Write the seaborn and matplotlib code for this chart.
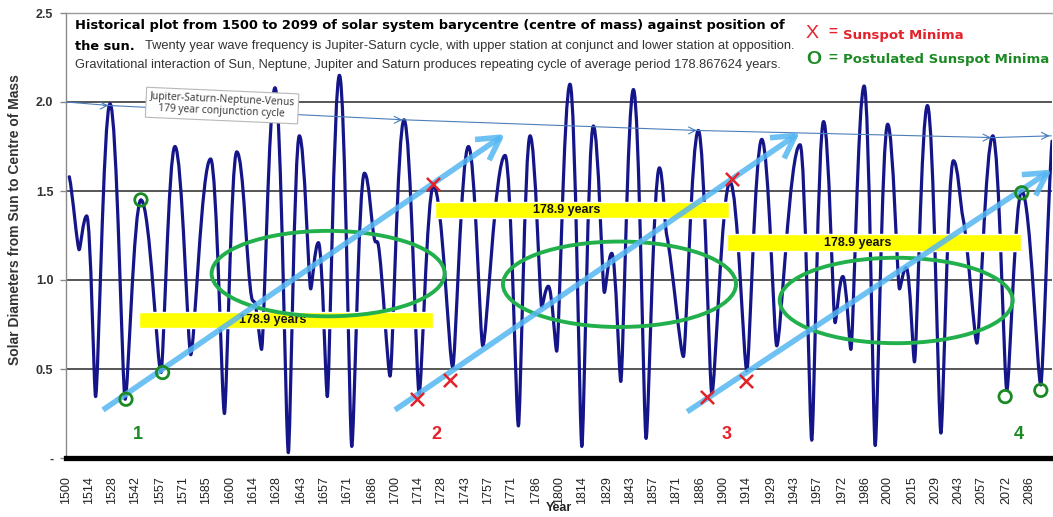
import numpy as np
import pandas as pd
import matplotlib
matplotlib.use("Agg")
import matplotlib.pyplot as plt
import seaborn as sns
from matplotlib.patches import Ellipse, PathPatch
from matplotlib.path import Path

# Distance of the Sun from the barycentre: turning points of the curve
years = [1502.0, 1508.0, 1512.6, 1518.0, 1526.8, 1536.0, 1545.6, 1557.8, 1566.3, 1575.9,
         1588.0, 1596.4, 1603.9, 1613.0, 1615.0, 1619.0, 1627.2, 1635.3, 1642.0, 1648.9,
         1653.6, 1659.0, 1666.4, 1673.9, 1681.6, 1688.0, 1690.0, 1697.2, 1705.7, 1714.9,
         1723.6, 1735.3, 1744.9, 1753.6, 1767.2, 1775.3, 1782.4, 1789.5, 1793.5, 1798.6,
         1806.7, 1813.9, 1820.9, 1827.6, 1832.1, 1837.6, 1845.3, 1853.0, 1861.1, 1865.6,
         1875.7, 1884.8, 1893.0, 1904.1, 1914.3, 1923.4, 1932.5, 1946.7, 1953.8, 1961.0,
         1968.0, 1972.7, 1977.6, 1985.7, 1992.4, 2000.0, 2007.2, 2011.3, 2016.3, 2024.2,
         2032.4, 2040.0, 2046.0, 2054.3, 2064.0, 2072.5, 2081.6, 2093.2, 2100.0]
distance = [1.58, 1.17, 1.36, 0.345, 1.99, 0.33, 1.45, 0.48, 1.75, 0.58,
            1.68, 0.25, 1.72, 0.90, 0.87, 0.61, 2.08, 0.03, 1.81, 0.95,
            1.21, 0.345, 2.15, 0.065, 1.60, 1.22, 1.20, 0.46, 1.90, 0.36,
            1.53, 0.51, 1.75, 0.63, 1.70, 0.18, 1.81, 0.85, 0.965, 0.60,
            2.10, 0.065, 1.865, 0.93, 1.15, 0.43, 2.07, 0.11, 1.63, 1.25,
            0.57, 1.84, 0.36, 1.55, 0.49, 1.79, 0.63, 1.76, 0.10, 1.89,
            0.76, 1.02, 0.61, 2.09, 0.07, 1.875, 0.95, 1.07, 0.54, 1.98,
            0.14, 1.67, 1.34, 0.645, 1.81, 0.38, 1.50, 0.41, 1.78]

tick_labels = ["1500", "1514", "1528", "1542", "1557", "1571", "1585", "1600", "1614",
               "1628", "1643", "1657", "1671", "1686", "1700", "1714", "1728", "1743",
               "1757", "1771", "1786", "1800", "1814", "1829", "1843", "1857", "1871",
               "1886", "1900", "1914", "1929", "1943", "1957", "1972", "1986", "2000",
               "2015", "2029", "2043", "2057", "2072", "2086"]
y_ticks = [0.0, 0.5, 1.0, 1.5, 2.0, 2.5]
y_tick_labels = ["-", "0.5", "1.0", "1.5", "2.0", "2.5"]

# Observed sunspot minima (red crosses)
minima_years = [1713.4, 1723.2, 1733.8, 1889.9, 1905.2, 1913.9]
minima_values = [0.33, 1.54, 0.44, 0.345, 1.565, 0.43]

# Postulated sunspot minima (green rings)
postulated_years = [1536.5, 1545.6, 1558.8, 2071.5, 2081.6, 2093.2]
postulated_values = [0.33, 1.45, 0.48, 0.345, 1.49, 0.38]

# 178.9-year repeat bands
period = 178.9
band_starts = [1544.5, 1724.6, 1902.2]
band_levels = [0.775, 1.395, 1.21]
band_text_years = [1626.0, 1804.7, 1982.0]

# Rings round the disturbed stretches of each cycle
ring_years = [1659.5, 1836.8, 2005.2]
ring_values = [1.036, 0.976, 0.885]

# Rising trend arrows through each cycle
trend_start_years = [1522.5, 1700.2, 1878.0]
trend_start_values = [0.27, 0.27, 0.26]
trend_end_years = [1767.2, 1946.7, 2100.0]
trend_end_values = [1.82, 1.83, 1.62]

# Jupiter-Saturn-Neptune-Venus conjunction peaks
conj_years = [1500.0, 1526.8, 1705.7, 1884.8, 2064.0, 2099.6]
conj_values = [2.00, 1.98, 1.90, 1.84, 1.80, 1.81]

# Cycle numbers
cycle_labels = ["1", "2", "3", "4"]
cycle_years = [1544.0, 1725.6, 1902.0, 2080.0]
cycle_value = 0.13

NAVY = "#15158a"
RED = "#e4222a"
GREEN = "#1c8a24"
RING = "#22b04c"
SKY = "#55b6f2"
THIN = "#4a7ebb"

sns.set_theme(style="white")
plt.rcParams["font.family"] = ["Liberation Sans", "DejaVu Sans"]

W, H = 1053, 517
fig = plt.figure(figsize=(W / 100, H / 100), dpi=100)
ax = fig.add_axes([66 / W, 1 - 458 / H, (1052 - 66) / W, (458 - 13) / H])
ax.set_xlim(1500, 2100)
ax.set_ylim(0, 2.5)


def smoothed_path(xs, ys):
    """Smoothed line through the turning points: flat tangent at crests and
    troughs (broad crests, narrow troughs), sloped tangent elsewhere."""
    n = len(xs)

    def kind(i):
        if 0 < i < n - 1:
            if ys[i] > ys[i - 1] and ys[i] > ys[i + 1]:
                return "crest"
            if ys[i] < ys[i - 1] and ys[i] < ys[i + 1]:
                return "trough"
        return "slope"

    def handle(i):
        return {"crest": 0.45, "trough": 0.18, "slope": 0.33}[kind(i)]

    def tangent(i):
        if kind(i) != "slope":
            return 0.0
        a, b = max(i - 1, 0), min(i + 1, n - 1)
        return 0.6 * (ys[b] - ys[a]) / (xs[b] - xs[a])

    verts = [(xs[0], ys[0])]
    codes = [Path.MOVETO]
    for i in range(n - 1):
        dx = xs[i + 1] - xs[i]
        h0, h1 = handle(i) * dx, handle(i + 1) * dx
        verts += [(xs[i] + h0, ys[i] + tangent(i) * h0),
                  (xs[i + 1] - h1, ys[i + 1] - tangent(i + 1) * h1),
                  (xs[i + 1], ys[i + 1])]
        codes += [Path.CURVE4] * 3
    return Path(verts, codes)


curve = PathPatch(smoothed_path(years, distance), fill=False, edgecolor=NAVY, lw=2.3,
                  joinstyle="round", capstyle="round", zorder=3, transform=ax.transData)
ax.add_patch(curve)

# grid and frame
for v in [0.5, 1.0, 1.5, 2.0]:
    ax.axhline(v, color="#3a3a3a", lw=1.2, zorder=1)
ax.spines["right"].set_visible(False)
ax.spines["top"].set_color("#9a9a9a")
ax.spines["top"].set_linewidth(1.0)
ax.spines["left"].set_color("#8a8a8a")
ax.spines["left"].set_linewidth(1.0)
ax.spines["bottom"].set_color("black")
ax.spines["bottom"].set_linewidth(3.8)

ax.set_xticks([int(t) for t in tick_labels])
ax.set_xticklabels(tick_labels, rotation=90, fontsize=9, color="#222222")
ax.set_yticks(y_ticks)
ax.set_yticklabels(y_tick_labels, fontsize=9, fontweight="bold", color="#333333")
ax.tick_params(axis="y", which="both", left=True, length=4, width=1, color="#8a8a8a", pad=5)
ax.tick_params(axis="x", which="both", bottom=False, pad=7)

fig.text(15 / W, 1 - 220 / H, "Solar Diameters from Sun to Centre of Mass", rotation=90,
         ha="center", va="center", fontsize=10, fontweight="bold", color="#333333")
fig.text(559 / W, 1 - 508 / H, "Year", ha="center", va="center", fontsize=9,
         fontweight="bold", color="#222222")

# conjunction cycle line joining the great peaks
conj_df = pd.DataFrame({"year": conj_years, "value": conj_values})
sns.lineplot(data=conj_df, x="year", y="value", ax=ax, color=THIN, lw=0.8,
             estimator=None, sort=False, zorder=4)
for i in range(1, len(conj_years)):
    ax.annotate("", xy=(conj_years[i] - 1.0, conj_values[i]),
                xytext=(conj_years[i] - 4.0, conj_values[i]), annotation_clip=False,
                arrowprops=dict(arrowstyle="->,head_length=0.5,head_width=0.25",
                                mutation_scale=10, color=THIN, lw=0.8,
                                shrinkA=0, shrinkB=0), zorder=4)
ax.text(1595, 1.98, "Jupiter-Saturn-Neptune-Venus\n179 year conjunction cycle",
        ha="center", va="center", fontsize=7.4, color="#333333", rotation=-2.5,
        family=["Open Sans", "DejaVu Sans"], linespacing=1.1, zorder=8,
        bbox=dict(boxstyle="square,pad=0.35", facecolor="white", edgecolor="#b8b8b8", lw=0.8))
ax.set_xlabel("")
ax.set_ylabel("")

# yellow period bands
for start, level, tx in zip(band_starts, band_levels, band_text_years):
    ax.barh(level, period, left=start, height=0.092, color="#ffff00", zorder=4)
    ax.text(tx, level, f"{period} years", ha="center", va="center", fontsize=9,
            fontweight="bold", color="#111111", zorder=5)

# rings
for cx, cy in zip(ring_years, ring_values):
    ax.add_patch(Ellipse((cx, cy), 141.8, 0.48, fill=False, edgecolor=RING,
                         lw=2.8, zorder=6))

# trend arrows
for x0, y0, x1, y1 in zip(trend_start_years, trend_start_values, trend_end_years, trend_end_values):
    ax.annotate("", xy=(x1, y1), xytext=(x0, y0), annotation_clip=False,
                arrowprops=dict(arrowstyle="->,head_length=0.8,head_width=0.45",
                                mutation_scale=20, color=SKY, lw=4.0, alpha=0.85,
                                shrinkA=0, shrinkB=0, capstyle="butt"), zorder=7)

# sunspot minima markers
sns.scatterplot(x=minima_years, y=minima_values, ax=ax, marker="x", s=90, color=RED,
                linewidth=1.8, zorder=9)
ax.scatter(postulated_years, postulated_values, marker="o", s=80, facecolors="none",
           edgecolors=GREEN, linewidths=2.0, zorder=9)

# cycle numbers
for lab, cx in zip(cycle_labels, cycle_years):
    col = GREEN if lab in ("1", "4") else RED
    ax.text(cx, cycle_value, lab, ha="center", va="center", fontsize=13,
            fontweight="bold", color=col, zorder=9)

# heading
fig.text(75 / W, 1 - 25 / H,
         "Historical plot from 1500 to 2099 of solar system barycentre (centre of mass) against position of",
         ha="left", va="center", fontsize=9.4, fontweight="bold", color="black",
         family=["DejaVu Sans"])
fig.text(75 / W, 1 - 46.5 / H, "the sun.", ha="left", va="center", fontsize=9.4,
         fontweight="bold", color="black", family=["DejaVu Sans"])
fig.text(145 / W, 1 - 46.5 / H,
         "Twenty year wave frequency is Jupiter-Saturn cycle, with upper station at conjunct and lower station at opposition.",
         ha="left", va="center", fontsize=9.3, color="#333333")
fig.text(75 / W, 1 - 65 / H,
         "Gravitational interaction of Sun, Neptune, Jupiter and Saturn produces repeating cycle of average period 178.867624 years.",
         ha="left", va="center", fontsize=9.3, color="#333333")

# key
fig.text(806 / W, 1 - 33 / H, "X", ha="left", va="center", fontsize=14, color=RED)
fig.text(828 / W, 1 - 32 / H, "=", ha="left", va="center", fontsize=11, fontweight="bold", color=RED)
fig.text(843 / W, 1 - 35 / H, "Sunspot Minima", ha="left", va="center", fontsize=9.5,
         fontweight="bold", color=RED, family=["DejaVu Sans"])
fig.text(806 / W, 1 - 59 / H, "O", ha="left", va="center", fontsize=14, fontweight="bold", color=GREEN)
fig.text(828 / W, 1 - 58 / H, "=", ha="left", va="center", fontsize=11, fontweight="bold", color=GREEN)
fig.text(843 / W, 1 - 60 / H, "Postulated Sunspot Minima", ha="left", va="center", fontsize=9.5,
         fontweight="bold", color=GREEN, family=["DejaVu Sans"])

fig.savefig("out.png", dpi=100)
